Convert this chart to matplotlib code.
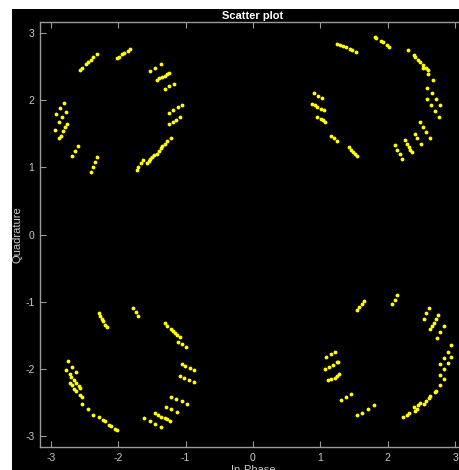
import numpy as np
import matplotlib.pyplot as plt
from matplotlib.patches import Rectangle

plt.rcParams['font.family'] = ['Liberation Sans', 'DejaVu Sans']
plt.rcParams['axes.unicode_minus'] = False

# received symbols, one list per quadrant
tl_i = [-2.56, -2.53, -2.48, -2.45, -2.41, -2.37, -2.32,
        -2.02, -1.99, -1.94, -1.91, -1.86, -1.82,
        -1.53, -1.45, -1.37,
        -1.43, -1.39, -1.35, -1.31, -1.28, -1.24,
        -1.31, -1.24, -1.17,
        -1.24, -1.18, -1.12, -1.06,
        -1.25, -1.19, -1.14, -1.08,
        -1.22, -1.27, -1.31, -1.35, -1.36, -1.39, -1.43, -1.47, -1.50, -1.53, -1.55, -1.57,
        -1.63, -1.66, -1.70, -1.72,
        -2.81, -2.87, -2.93, -2.78, -2.83, -2.88, -2.94, -2.76, -2.79, -2.82, -2.85, -2.88,
        -2.59, -2.64, -2.68,
        -2.31, -2.34, -2.37, -2.41]
tl_q = [2.45, 2.48, 2.53, 2.56, 2.60, 2.64, 2.69,
        2.62, 2.64, 2.68, 2.70, 2.73, 2.76,
        2.43, 2.48, 2.53,
        2.30, 2.32, 2.34, 2.36, 2.38, 2.40,
        2.17, 2.21, 2.24,
        1.81, 1.85, 1.89, 1.93,
        1.64, 1.68, 1.71, 1.75,
        1.43, 1.39, 1.35, 1.31, 1.28, 1.24, 1.19, 1.18, 1.15, 1.12, 1.09, 1.06,
        1.11, 1.07, 1.01, 0.96,
        1.96, 1.88, 1.79, 1.82, 1.75, 1.67, 1.56, 1.64, 1.60, 1.54, 1.47, 1.43,
        1.32, 1.24, 1.16,
        1.15, 1.08, 1.01, 0.93]

tr_i = [1.81, 1.83, 1.90, 1.93, 1.99, 2.02,
        1.25, 1.29, 1.34, 1.38, 1.44, 1.47, 1.53,
        2.30, 2.39, 2.40, 2.45, 2.48, 2.52, 2.52, 2.57, 2.60, 2.59, 2.67,
        2.58, 2.65, 2.71, 2.78, 2.58, 2.64, 2.70, 2.76,
        2.48, 2.52, 2.57, 2.62,
        2.40, 2.44, 2.49,
        2.26, 2.28, 2.31, 2.33, 2.36,
        2.10, 2.14, 2.18, 2.21,
        0.90, 0.97, 1.03,
        0.88, 0.92, 0.95, 1.01, 1.05,
        0.95, 1.01, 1.04, 1.07,
        1.15, 1.20, 1.24,
        1.42, 1.45, 1.48, 1.51, 1.54]
tr_q = [2.94, 2.92, 2.88, 2.86, 2.82, 2.79,
        2.84, 2.82, 2.80, 2.79, 2.76, 2.74, 2.71,
        2.74, 2.67, 2.64, 2.60, 2.57, 2.52, 2.48, 2.48, 2.44, 2.39, 2.30,
        2.18, 2.10, 2.02, 1.93, 2.01, 1.93, 1.84, 1.75,
        1.68, 1.60, 1.52, 1.44,
        1.50, 1.43, 1.34,
        1.40, 1.35, 1.30, 1.26, 1.22,
        1.33, 1.26, 1.19, 1.12,
        2.10, 2.06, 2.03,
        1.94, 1.92, 1.90, 1.87, 1.85,
        1.75, 1.72, 1.70, 1.68,
        1.46, 1.43, 1.39,
        1.30, 1.26, 1.22, 1.19, 1.16]

bl_i = [-2.29, -2.27, -2.24, -2.22, -2.20, -2.17,
        -1.78, -1.74, -1.70,
        -1.31, -1.27, -1.22, -1.19, -1.16, -1.13, -1.09,
        -1.11, -1.05, -1.00,
        -1.06, -1.01, -0.94, -0.87,
        -1.08, -1.02, -0.95, -0.88,
        -1.21, -1.14, -1.06, -0.98,
        -1.29, -1.21, -1.13,
        -1.45, -1.41, -1.36, -1.31, -1.27, -1.23,
        -1.61, -1.53, -1.45, -1.36,
        -2.75, -2.68, -2.62,
        -2.77, -2.72, -2.70, -2.66, -2.63, -2.58, -2.56,
        -2.72, -2.69, -2.65, -2.62, -2.57, -2.54,
        -2.54, -2.45, -2.37, -2.29, -2.23, -2.20, -2.14, -2.11, -2.05, -2.02]
bl_q = [-1.16, -1.21, -1.25, -1.29, -1.34, -1.38,
        -1.09, -1.15, -1.21,
        -1.32, -1.36, -1.40, -1.44, -1.47, -1.50, -1.53,
        -1.60, -1.63, -1.67,
        -1.92, -1.96, -1.99, -2.02,
        -2.10, -2.13, -2.16, -2.19,
        -2.42, -2.45, -2.48, -2.52,
        -2.56, -2.60, -2.64,
        -2.66, -2.69, -2.71, -2.73, -2.75, -2.77,
        -2.73, -2.78, -2.82, -2.87,
        -1.88, -1.97, -2.05,
        -2.02, -2.08, -2.12, -2.17, -2.21, -2.25, -2.28,
        -2.21, -2.24, -2.30, -2.32, -2.38, -2.41,
        -2.52, -2.60, -2.68, -2.71, -2.76, -2.78, -2.83, -2.85, -2.89, -2.90]

br_i = [1.65, 1.61, 1.58, 1.55,
        2.13, 2.10, 2.06,
        2.61, 2.57, 2.53,
        2.74, 2.71, 2.68, 2.66, 2.63,
        2.83, 2.78, 2.73,
        2.94, 2.90, 2.84, 2.94, 2.89, 2.78, 2.83, 2.77, 2.84, 2.77, 2.71, 2.70,
        2.63, 2.61, 2.56, 2.53, 2.48, 2.45, 2.39, 2.43, 2.40, 2.31, 2.28, 2.23,
        1.09, 1.15, 1.21,
        1.07, 1.13, 1.19, 1.24, 1.26,
        1.12, 1.16, 1.21, 1.25, 1.28,
        1.30, 1.38, 1.46,
        1.55, 1.62, 1.70, 1.79]
br_q = [-0.99, -1.03, -1.08, -1.13,
        -0.90, -0.97, -1.04,
        -1.09, -1.17, -1.25,
        -1.19, -1.25, -1.32, -1.36, -1.41,
        -1.36, -1.45, -1.54,
        -1.64, -1.74, -1.83, -1.82, -1.91, -1.92, -2.00, -2.09, -2.15, -2.24, -2.32, -2.34,
        -2.40, -2.43, -2.47, -2.52, -2.50, -2.54, -2.57, -2.59, -2.62, -2.66, -2.68, -2.72,
        -1.82, -1.78, -1.74,
        -2.00, -1.97, -1.94, -1.90, -1.89,
        -2.17, -2.15, -2.13, -2.10, -2.08,
        -2.46, -2.42, -2.37,
        -2.69, -2.65, -2.59, -2.53]

ticks = [-3, -2, -1, 0, 1, 2, 3]

fig = plt.figure(figsize=(4.6, 4.7), dpi=100, facecolor='white')
# black figure area (reference has a thin white margin top/left)
fig.patches.append(Rectangle((12 / 460, 0), 1, 461 / 470, transform=fig.transFigure,
                             facecolor='black', edgecolor='none', zorder=-10))

ax = fig.add_axes([40 / 460, 23 / 470, 426 / 460, 425 / 470])
ax.set_facecolor('black')

for xi, yq in [(tl_i, tl_q), (tr_i, tr_q), (bl_i, bl_q), (br_i, br_q)]:
    ax.plot(xi, yq, '.', color=(1, 1, 0), markersize=3.5, linestyle='none')

ax.set_xlim(-3.16, 3.16)
ax.set_ylim(-3.16, 3.16)
ax.set_xticks(ticks)
ax.set_yticks(ticks)
ax.set_xticklabels([str(t) for t in ticks])
ax.set_yticklabels([str(t) for t in ticks])

grey = '#9a9a9a'
for s in ax.spines.values():
    s.set_color(grey)
    s.set_linewidth(1.0)
ax.tick_params(direction='in', length=4, width=0.8, colors=grey, labelcolor='#c8c8c8',
               labelsize=7.5, top=True, right=True, pad=4)

ax.set_title('Scatter plot', color='white', fontsize=8, fontweight='bold', pad=2)
ax.set_xlabel('In-Phase', color='#c8c8c8', fontsize=8, labelpad=2)
ax.set_ylabel('Quadrature', color='#c8c8c8', fontsize=8, labelpad=2)

fig.savefig('out.png', dpi=100, facecolor=fig.get_facecolor())
